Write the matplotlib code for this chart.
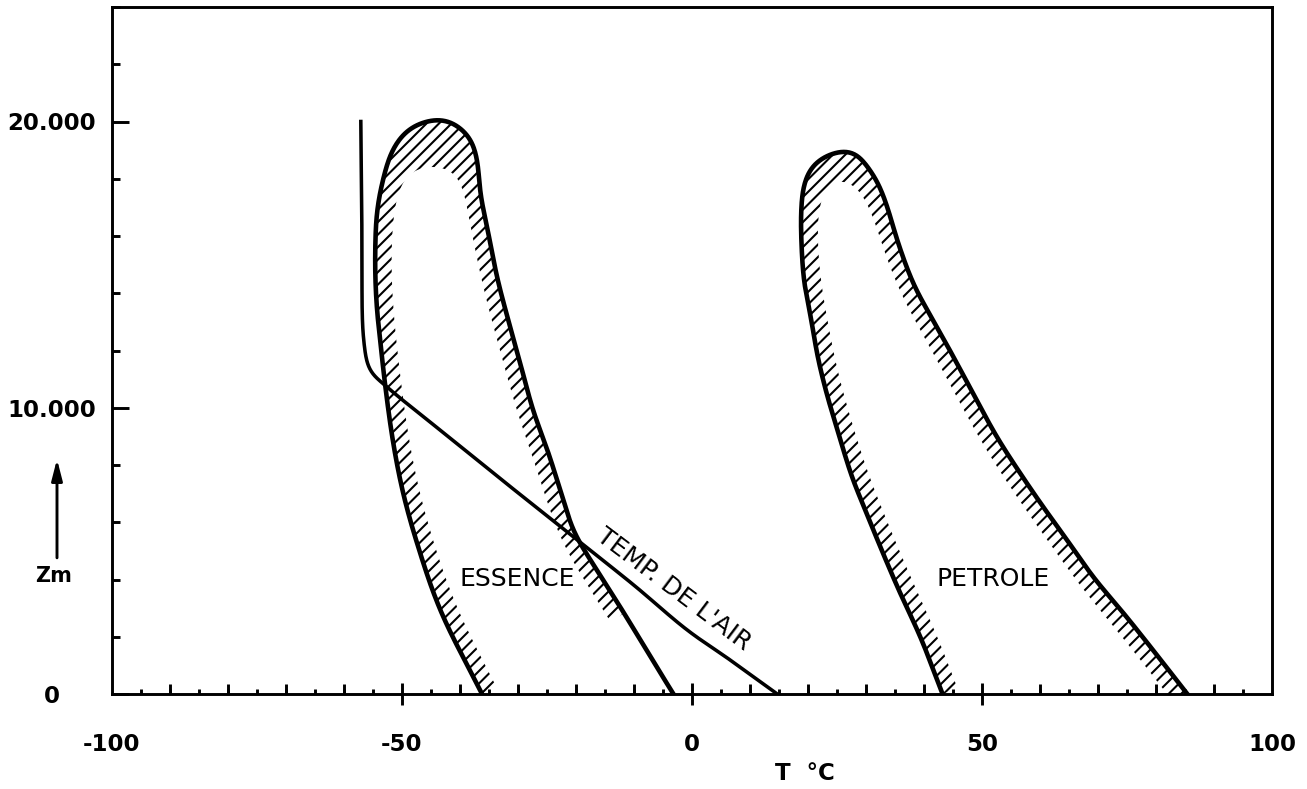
import numpy as np
import matplotlib
matplotlib.use('Agg')
import matplotlib.pyplot as plt
from matplotlib.patches import Polygon
from matplotlib.ticker import FixedLocator, MultipleLocator

plt.rcParams['font.family'] = ['DejaVu Sans']
plt.rcParams['hatch.linewidth'] = 1.0

# values (T in deg C, z in m)
essence_left_T = [-36.2, -43.4, -47.4, -49.8, -51.5, -52.9, -53.7, -54.3, -54.6, -54.6, -54.3, -53.2, -51.5, -48.6, -43.9]
essence_left_z = [0, 2930, 5265, 7010, 8750, 10780, 12240, 13390, 14550, 15730, 16880, 18035, 19080, 19780, 20090]
essence_right_T = [-41.7, -38.2, -37.0, -36.5, -35.3, -33.6, -31.8, -29.6, -27.4, -24.9, -22.7, -20.5, -19.3, -15.5, -11.7, -6.5, -3.2]
essence_right_z = [20020, 19430, 18630, 17480, 16290, 14550, 13150, 11545, 9905, 8510, 7115, 5720, 5265, 4040, 2820, 1080, 0]

petrole_left_T = [43.2, 39.4, 35.9, 32.5, 29.9, 27.6, 25.1, 23.4, 21.7, 20.5, 19.3, 18.8, 18.8, 19.3, 21.0, 25.6]
petrole_left_z = [0, 1985, 3520, 5125, 6415, 7570, 9210, 10360, 11750, 13150, 14440, 16180, 16780, 17830, 18530, 18980]
petrole_right_T = [28.2, 29.5, 31.9, 33.7, 35.4, 38.3, 42.3, 45.7, 49.1, 52.6, 56.6, 60.6, 64.7, 69.2, 74.4, 79.5, 85.4]
petrole_right_z = [18940, 18630, 17930, 17000, 15840, 14270, 12800, 11545, 10255, 8965, 7705, 6520, 5370, 4080, 2825, 1530, 0]

air_T = [14.7, 6.5, -0.8, -10.0, -19.3, -30.5, -41.7, -52.9, -55.5, -56.6, -56.9, -57.1]
air_z = [0, 1200, 2230, 3800, 5300, 7110, 8940, 10780, 11300, 12350, 16000, 20000]

x_ticks = [-100, -50, 0, 50, 100]
x_tick_labels = ['-100', '-50', '0', '50', '100']
y_ticks = [0, 10000, 20000]
y_tick_labels = ['0', '10.000', '20.000']

essence_hatch_end = 2820  # hatching on the right edge stops here
essence_cap = 18500
petrole_cap = 18170

W, H, DPI = 1307, 789, 150
fig = plt.figure(figsize=(W / DPI, H / DPI), dpi=DPI)
ax = fig.add_axes([112 / W, 95 / H, 1160 / W, 687 / H])
ax.set_xlim(-100, 100)
ax.set_ylim(0, 24000)


def catmull(pts, n=16):
    # centripetal catmull-rom through the points (display coords)
    pts = np.asarray(pts, float)
    p = np.vstack([2 * pts[0] - pts[1], pts, 2 * pts[-1] - pts[-2]])
    out = []
    for i in range(1, len(p) - 2):
        p0, p1, p2, p3 = p[i - 1], p[i], p[i + 1], p[i + 2]
        t0 = 0.0
        t1 = t0 + max(np.linalg.norm(p1 - p0), 1e-6) ** 0.5
        t2 = t1 + max(np.linalg.norm(p2 - p1), 1e-6) ** 0.5
        t3 = t2 + max(np.linalg.norm(p3 - p2), 1e-6) ** 0.5
        t = np.linspace(t1, t2, n, endpoint=False)[:, None]
        a1 = (t1 - t) / (t1 - t0) * p0 + (t - t0) / (t1 - t0) * p1
        a2 = (t2 - t) / (t2 - t1) * p1 + (t - t1) / (t2 - t1) * p2
        a3 = (t3 - t) / (t3 - t2) * p2 + (t - t2) / (t3 - t2) * p3
        b1 = (t2 - t) / (t2 - t0) * a1 + (t - t0) / (t2 - t0) * a2
        b2 = (t3 - t) / (t3 - t1) * a2 + (t - t1) / (t3 - t1) * a3
        out.append((t2 - t) / (t2 - t1) * b1 + (t - t1) / (t2 - t1) * b2)
    out.append(pts[-1:])
    return np.vstack(out)


def resample(P, step=1.5):
    s = np.concatenate([[0], np.cumsum(np.hypot(*np.diff(P, axis=0).T))])
    u = np.arange(0, s[-1], step)
    u = np.append(u, s[-1])
    return np.column_stack([np.interp(u, s, P[:, 0]), np.interp(u, s, P[:, 1])])


def relax(P, k=7):
    # gaussian smoothing along the curve, ends kept on their tangent
    m = 3 * k
    g = np.exp(-0.5 * (np.arange(-m, m + 1) / k) ** 2)
    g /= g.sum()
    head = 2 * P[0] - P[m:0:-1]
    tail = 2 * P[-1] - P[-2:-m - 2:-1]
    Q = np.vstack([head, P, tail])
    return np.column_stack([np.convolve(Q[:, i], g, mode='valid') for i in range(2)])


def curve(T, z, k=7):
    P = resample(catmull(ax.transData.transform(np.column_stack([T, z]))))
    return relax(P, k)


def to_data(P):
    return ax.transData.inverted().transform(P)


def band(P, w, zcap):
    # strip of width w on the inner (right-hand) side of the path
    d = np.gradient(P, axis=0)
    nrm = np.column_stack([d[:, 1], -d[:, 0]])
    nrm /= np.maximum(np.linalg.norm(nrm, axis=1), 1e-9)[:, None]
    inner = P + w * nrm
    ycap = ax.transData.transform([[0, zcap]])[0, 1]
    inner[:, 1] = np.minimum(inner[:, 1], ycap)
    inner = relax(resample(inner), 16)
    return np.vstack([P, inner[::-1]])


def envelope(lT, lz, rT, rz, cap, hatch_end=None):
    line = curve(lT + rT, lz + rz)
    hp = line
    if hatch_end is not None:
        yend = ax.transData.transform([[0, hatch_end]])[0, 1]
        top = np.argmax(line[:, 1])
        below = np.nonzero(line[top:, 1] < yend)[0]
        hp = line[:top + below[0]]
    poly = Polygon(to_data(band(hp, 16, cap)), closed=True, fill=False,
                   edgecolor='black', lw=0, hatch='////', zorder=1)
    ax.add_patch(poly)
    d = to_data(line)
    ax.plot(d[:, 0], d[:, 1], color='black', lw=2.2, zorder=3,
            solid_joinstyle='round')


envelope(essence_left_T, essence_left_z, essence_right_T, essence_right_z,
         essence_cap, essence_hatch_end)
envelope(petrole_left_T, petrole_left_z, petrole_right_T, petrole_right_z,
         petrole_cap)

air = to_data(curve(air_T, air_z, k=4))
ax.plot(air[:, 0], air[:, 1], color='black', lw=1.7, zorder=3)

# labels inside the plot
ax.text(-30.1, 4010, 'ESSENCE', ha='center', va='center', fontsize=12)
ax.text(52.0, 4010, 'PETROLE', ha='center', va='center', fontsize=12)
ax.text(-3.2, 3650, "TEMP. DE L'AIR", ha='center', va='center', fontsize=12,
        rotation=-37, rotation_mode='anchor')

# axes styling
for s in ax.spines.values():
    s.set_linewidth(1.4)

ax.xaxis.set_major_locator(FixedLocator(x_ticks))
ax.set_xticklabels(x_tick_labels)
ax.xaxis.set_minor_locator(MultipleLocator(5))
ax.tick_params(axis='x', which='major', direction='inout', length=11, width=1.4,
               pad=13.2, labelsize=11)
ax.tick_params(axis='x', which='minor', direction='in', length=2.6, width=1.4)

ax.yaxis.set_major_locator(FixedLocator(y_ticks))
ax.set_yticklabels(y_tick_labels)
ax.yaxis.set_minor_locator(MultipleLocator(2000))
ax.tick_params(axis='y', which='major', direction='in', length=8.2, width=1.4,
               pad=28.8, labelsize=11)
ax.tick_params(axis='y', which='minor', direction='in', length=3.8, width=1.4)

for lab in ax.get_yticklabels():
    lab.set_ha('center')
    lab.set_fontweight('bold')
for lab in ax.get_xticklabels():
    lab.set_fontweight('bold')

ticks = ax.xaxis.get_major_ticks()
ticks[0].tick1line.set_visible(False)
ticks[-1].tick1line.set_visible(False)

# medium ticks every 10 degrees
sec = ax.secondary_xaxis('bottom')
sec.set_xticks([v for v in range(-90, 100, 10) if v % 50])
sec.tick_params(axis='x', which='major', direction='in', length=4.8, width=1.4,
                labelbottom=False)
sec.tick_params(axis='x', which='minor', length=0)
sec.spines['bottom'].set_visible(False)

# Z axis arrow and labels
ax.annotate('', xy=(57 / W, 1 - 455 / H), xytext=(57 / W, 1 - 562 / H),
            xycoords='figure fraction', textcoords='figure fraction',
            arrowprops=dict(arrowstyle='-|>,head_width=0.18,head_length=0.7',
                            lw=1.4, color='black', mutation_scale=12))
fig.text(54 / W, 1 - 576 / H, 'Zm', ha='center', va='center', fontsize=10,
         fontweight='bold')
fig.text(805 / W, 1 - 773 / H, 'T  °C', ha='center', va='center', fontsize=11,
         fontweight='bold')

fig.savefig('out.png', dpi=DPI)
